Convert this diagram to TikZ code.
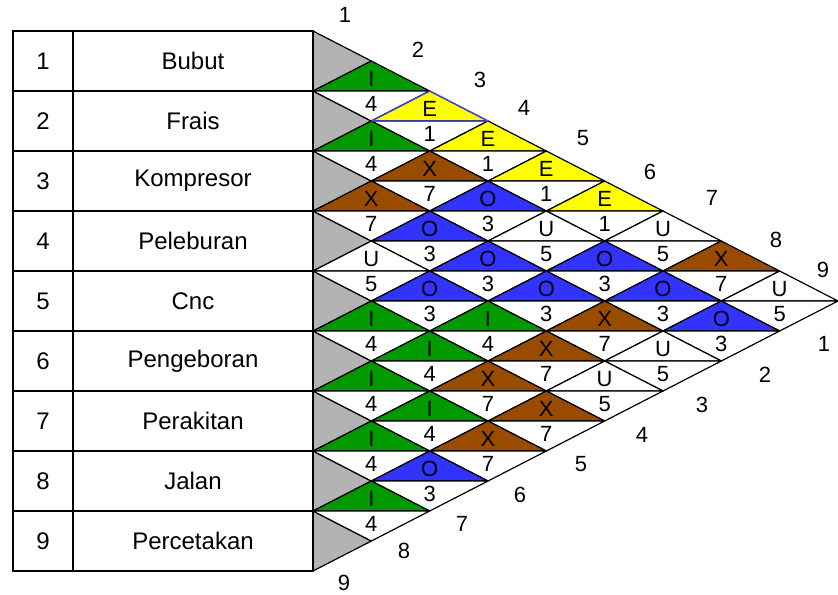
\documentclass[tikz,border=0pt]{standalone}
\usepackage{fontspec}
\setmainfont{Liberation Sans}
\definecolor{cgreen}{HTML}{009900}
\definecolor{cyellow}{HTML}{FFFF00}
\definecolor{cbrown}{HTML}{994C00}
\definecolor{cblue}{HTML}{3333FF}
\definecolor{cwhite}{HTML}{FFFFFF}
\definecolor{cgrey}{HTML}{B3B3B3}
\begin{document}
\begin{tikzpicture}[x=0.75pt,y=-0.75pt,
  txt/.style={inner sep=0pt,font=\fontsize{16.5}{18}\selectfont},
  tabtxt/.style={inner sep=0pt,font=\fontsize{18}{20}\selectfont},
  tri/.style={draw=black,line width=0.9pt,line join=round},
  grid/.style={draw=black,line width=0.8pt}]
\useasboundingbox (0,0) rectangle (838,594);
% table
\foreach \r/\name in {1/Bubut,2/Frais,3/Kompresor,4/Peleburan,5/Cnc,6/Pengeboran,7/Perakitan,8/Jalan,9/Percetakan}{
  \node[tabtxt] (num\r) at (43,{1+60*\r}) {\r};
  \node[tabtxt] (act\r) at (193,{1+60*\r}) {\name};
  % grey half diamonds
  \filldraw[fill=cgrey,tri] (313,{31+60*(\r-1)}) -- (371.33,{1+60*\r}) -- (313,{31+60*\r}) -- cycle;
}
\draw[grid] (13,31) rectangle (313,571);
\draw[grid] (73,31) -- (73,571);
\foreach \k in {1,...,8}{\draw[grid] (13,{31+60*\k}) -- (313,{31+60*\k});}
% diamonds
\foreach \i/\j/\L/\c/\n in {
 1/2/I/cgreen/4, 1/3/E/cyellow/1, 1/4/E/cyellow/1, 1/5/E/cyellow/1, 1/6/E/cyellow/1, 1/7/U/cwhite/5, 1/8/X/cbrown/7, 1/9/U/cwhite/5,
 2/3/I/cgreen/4, 2/4/X/cbrown/7, 2/5/O/cblue/3, 2/6/U/cwhite/5, 2/7/O/cblue/3, 2/8/O/cblue/3, 2/9/O/cblue/3,
 3/4/X/cbrown/7, 3/5/O/cblue/3, 3/6/O/cblue/3, 3/7/O/cblue/3, 3/8/X/cbrown/7, 3/9/U/cwhite/5,
 4/5/U/cwhite/5, 4/6/O/cblue/3, 4/7/I/cgreen/4, 4/8/X/cbrown/7, 4/9/U/cwhite/5,
 5/6/I/cgreen/4, 5/7/I/cgreen/4, 5/8/X/cbrown/7, 5/9/X/cbrown/7,
 6/7/I/cgreen/4, 6/8/I/cgreen/4, 6/9/X/cbrown/7,
 7/8/I/cgreen/4, 7/9/O/cblue/3,
 8/9/I/cgreen/4}{
  \pgfmathsetmacro\cx{313+(\j-\i)*58.33}
  \pgfmathsetmacro\cy{1+30*(\i+\j)}
  \filldraw[fill=\c,tri] (\cx-58.33,\cy) -- (\cx,\cy-30) -- (\cx+58.33,\cy) -- cycle;
  \filldraw[fill=white,tri] (\cx-58.33,\cy) -- (\cx,\cy+30) -- (\cx+58.33,\cy) -- cycle;
  \node[txt] (L\i\j) at (\cx,\cy-12) {\L};
  \node[txt] (N\i\j) at (\cx,\cy+13) {\n};
}
% highlighted outline on pair 1-3
\draw[draw=blue!70,line width=0.8pt,line join=round] (371.67,121) -- (430,91) -- (488.33,121) -- cycle;
% outer edge labels
\foreach \k/\x/\y in {1/345/15,2/418/50,3/480/80,4/524/108,5/583/138,6/650/172,7/712/198,8/776/240,9/823/270}{
  \node[txt] (top\k) at (\x,\y) {\k};
}
\foreach \k/\x/\y in {1/824/344,2/765/375,3/702/405,4/642/435,5/581/464,6/520/495,7/462/524,8/404/551,9/344/583}{
  \node[txt] (bot\k) at (\x,\y) {\k};
}
\end{tikzpicture}
\end{document}
